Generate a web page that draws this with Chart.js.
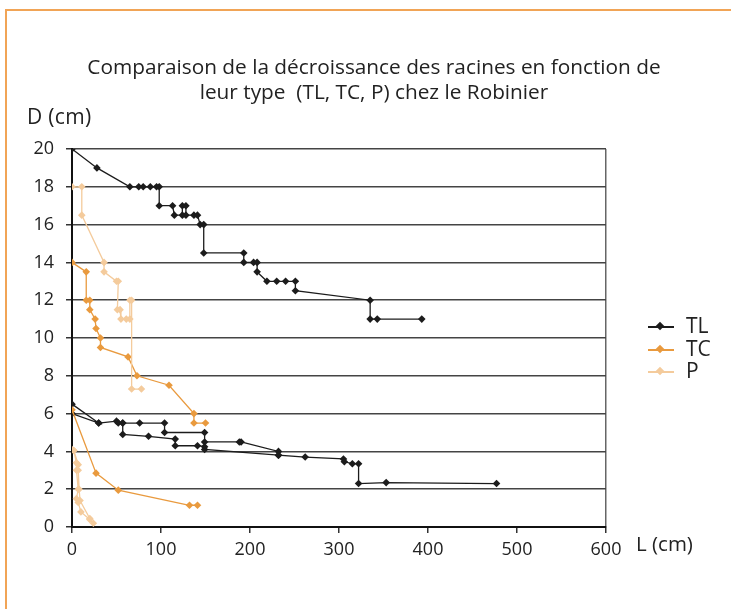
<!DOCTYPE html>
<html>
<head>
<meta charset="utf-8">
<script src="https://cdn.jsdelivr.net/npm/chart.js@4"></script>
<style>
  html, body { margin:0; padding:0; background:#fff; }
  body { width:731px; height:609px; position:relative; overflow:hidden; font-family:"Open Sans", sans-serif; color:#222; }
  #frame { position:absolute; left:5px; top:9px; width:900px; height:800px; border-left:2px solid #F1A456; border-top:2px solid #F1A456; }
  #wrap { position:absolute; left:0; top:0; width:731px; height:609px; }
  .t { position:absolute; white-space:nowrap; }
  #title { left:0; width:748px; top:54px; text-align:center; font-size:20.8px; line-height:24.5px; }
  #ylab { left:27px; top:102px; font-size:21px; letter-spacing:0.3px; }
  #xlab { left:636px; top:529px; font-size:20.5px; }
  .leg { position:absolute; left:648px; font-size:21px; height:22px; }
  .leg .ln { position:absolute; left:0; top:10px; width:26px; height:1.5px; }
  .leg .mk { position:absolute; left:9px; top:7px; width:6px; height:6px; transform:rotate(45deg); }
  .leg .lb { position:absolute; left:38px; top:-5px; }
</style>
</head>
<body>
<div id="frame"></div>
<div id="wrap"><canvas id="c" width="731" height="609"></canvas></div>
<div class="t" id="title">Comparaison de la décroissance des racines en fonction de<br>leur type&nbsp; (TL, TC, P) chez le Robinier</div>
<div class="t" id="ylab">D (cm)</div>
<div class="t" id="xlab">L (cm)</div>
<div id="legend"></div>
<script>
// ---- Data (L = length in cm, D = depth in cm); null breaks the line ----
const seriesNames = ["TL", "TC", "P"];
const xTicks = [0, 100, 200, 300, 400, 500, 600];
const yTicks = [0, 2, 4, 6, 8, 10, 12, 14, 16, 18, 20];

const TL_L = [0, 28, 65, 75, 80, 88, 95, 98, 98, 113, 115, 124, 124, 128, 128, 137, 141, 144, 148, 148, 193, 193, 204, 208, 208, 219, 230, 240, 251, 251, 335, 335, 343, 393,
  null,
  0, 30, 0,
  null,
  30, 50, 52, 57, 76, 104, 104, 149, 149, 188, 190, 232, 232, 262, 305, 306, 315, 322, 322, 353, 477,
  null,
  57, 57, 86, 116, 116, 141, 149, 149, 232];
const TL_D = [20, 19, 18, 18, 18, 18, 18, 18, 17, 17, 16.5, 16.5, 17, 17, 16.5, 16.5, 16.5, 16, 16, 14.5, 14.5, 14, 14, 14, 13.5, 13, 13, 13, 13, 12.5, 12, 11, 11, 11,
  null,
  6.5, 5.5, 6,
  null,
  5.5, 5.6, 5.5, 5.5, 5.5, 5.5, 5, 5, 4.5, 4.5, 4.5, 4.0, 3.8, 3.7, 3.6, 3.45, 3.35, 3.35, 2.3, 2.35, 2.3,
  null,
  5.5, 4.9, 4.8, 4.65, 4.3, 4.3, 4.25, 4.1, 3.8];

const TC_L = [0, 16, 16, 20, 20, 26, 27, 32, 32, 63, 73, 109, 137, 137, 150,
  null,
  0, 27, 52, 132, 141];
const TC_D = [14, 13.5, 12, 12, 11.5, 11, 10.5, 10, 9.5, 9, 8, 7.5, 6, 5.5, 5.5,
  null,
  6.2, 2.85, 1.95, 1.15, 1.15];

const P_L = [0, 11, 11, 36, 36, 50, 52, 51, 54, 55, 61, 65, 65, 67, 67, 78,
  null,
  0, 2, 5, 5, 7, 5, 7, 10, 20, 24,
  null,
  2, 7, 7, 8, 9, 20];
const P_D = [18, 18, 16.5, 14, 13.5, 13, 13, 11.5, 11.5, 11, 11, 11, 12, 12, 7.3, 7.3,
  null,
  4.1, 4.05, 3.4, 3.0, 2.0, 1.5, 1.3, 0.8, 0.4, 0.2,
  null,
  4.05, 3.3, 3.0, 2.0, 1.4, 0.45];

const colors = ["#1c1c1c", "#E99A3E", "#F4CB9C"];

// ---- Build chart ----
function pts(xs, ys) {
  return xs.map((x, i) => (x === null || ys[i] === null) ? {x: null, y: null} : {x: x, y: ys[i]});
}
const allData = [pts(TL_L, TL_D), pts(TC_L, TC_D), pts(P_L, P_D)];

const datasets = seriesNames.map((name, i) => ({
  label: name,
  data: allData[i],
  showLine: true,
  spanGaps: false,
  borderColor: colors[i],
  backgroundColor: colors[i],
  borderWidth: 1.3,
  pointStyle: 'rectRot',
  pointRadius: 3.8,
  pointBorderWidth: 0,
  order: 3 - i
}));

const tickFont = { family: "Open Sans", size: 18 };

new Chart(document.getElementById('c'), {
  type: 'scatter',
  data: { datasets },
  options: {
    responsive: false,
    animation: false,
    devicePixelRatio: 1,
    layout: { padding: { left: 0, top: 149, right: 125, bottom: 42 } },
    plugins: { legend: { display: false }, title: { display: false }, tooltip: { enabled: false } },
    scales: {
      x: {
        type: 'linear', min: xTicks[0], max: xTicks[xTicks.length - 1],
        afterBuildTicks: s => { s.ticks = xTicks.map(v => ({ value: v })); },
        afterFit: s => { s.height = 40; },
        ticks: { font: tickFont, color: '#222', padding: 6, maxRotation: 0 },
        grid: {
          drawOnChartArea: true,
          color: ctx => (ctx.tick && ctx.tick.value === 600) ? '#666' : 'rgba(0,0,0,0)',
          tickColor: '#333', tickLength: 6, lineWidth: 1.5
        },
        border: { color: '#111', width: 2 }
      },
      y: {
        type: 'linear', min: yTicks[0], max: yTicks[yTicks.length - 1],
        afterBuildTicks: s => { s.ticks = yTicks.map(v => ({ value: v })); },
        afterFit: s => { s.width = 72; },
        ticks: { font: tickFont, color: '#222', padding: 12 },
        grid: { color: '#444', lineWidth: 1.5, tickColor: '#333', tickLength: 6 },
        border: { color: '#111', width: 2 }
      }
    }
  }
});

// ---- HTML legend ----
const legTops = [316, 339, 361];
const legend = document.getElementById('legend');
seriesNames.forEach((name, i) => {
  const d = document.createElement('div');
  d.className = 'leg';
  d.style.top = legTops[i] + 'px';
  d.innerHTML = '<div class="ln" style="background:' + colors[i] + '"></div>' +
                '<div class="mk" style="background:' + colors[i] + '"></div>' +
                '<div class="lb">' + name + '</div>';
  legend.appendChild(d);
});
</script>
</body>
</html>
